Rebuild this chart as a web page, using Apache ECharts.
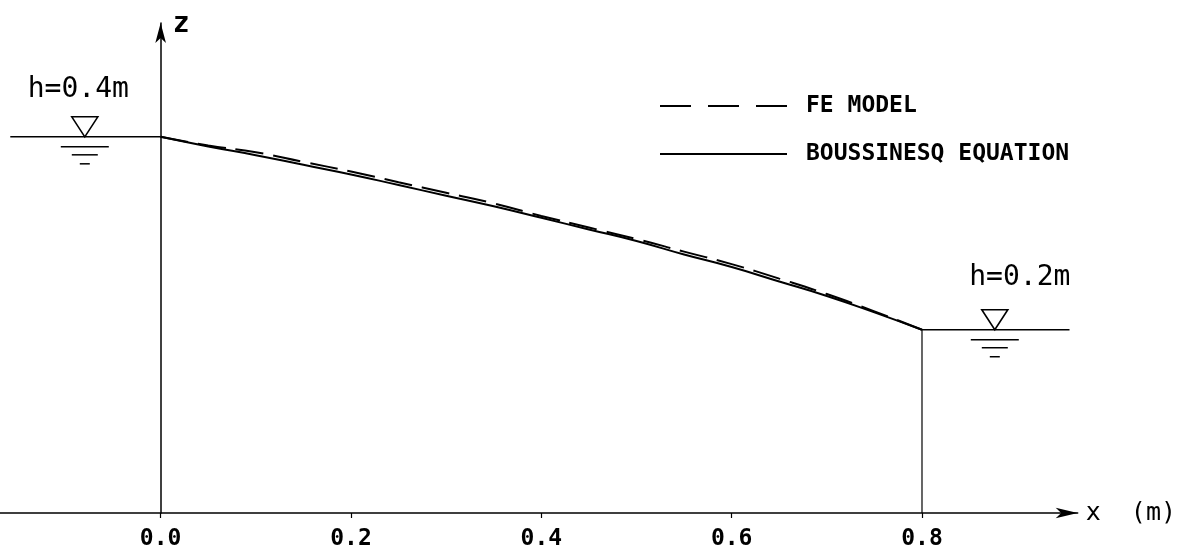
<!DOCTYPE html>
<html>
<head>
<meta charset="utf-8">
<script src="https://cdn.jsdelivr.net/npm/echarts@6/dist/echarts.min.js"></script>
<style>html,body{margin:0;padding:0;background:#fff;}#c{width:1179px;height:554px;}</style>
</head>
<body>
<div id="c"></div>
<script>
// ---- data ----
const xValues   = [0, 0.05, 0.1, 0.15, 0.2, 0.25, 0.3, 0.35, 0.4, 0.45, 0.5, 0.55, 0.6, 0.65, 0.7, 0.75, 0.8];
const boussinesq = [0.400, 0.390, 0.381, 0.371, 0.361, 0.350, 0.339, 0.328, 0.316, 0.304, 0.292, 0.278, 0.265, 0.250, 0.235, 0.218, 0.200];
const feModel    = [0.400, 0.391, 0.384, 0.374, 0.364, 0.353, 0.342, 0.331, 0.318, 0.306, 0.294, 0.281, 0.268, 0.253, 0.237, 0.219, 0.200];
const xTicks = [0, 0.2, 0.4, 0.6, 0.8];
const leftWater  = [[-0.158, 0.4], [0, 0.4]];
const rightWater = [[0.8, 0.2], [0.955, 0.2]];
const rightWall  = [[0.8, 0.01], [0.8, 0.2]];
// water level markers: [apex x, apex z, label x, label z, label]
const levelMarks = [
  [-0.0797, 0.4, -0.0865, 0.4487, 'h=0.4m'],
  [0.8765, 0.2, 0.9028, 0.2539, 'h=0.2m']
];
const seriesNames = ['FE MODEL', 'BOUSSINESQ EQUATION'];

const chart = echarts.init(document.getElementById('c'), null, {renderer: 'canvas'});
const pair = (ys) => xValues.map((x, i) => [x, ys[i]]);
const font = 'DejaVu Sans Mono';

const option = {
  backgroundColor: '#fff',
  animation: false,
  grid: {left: 0, right: 99, top: 23, bottom: 41, containLabel: false},
  xAxis: {
    type: 'value', min: -0.1688, max: 0.9636,
    name: 'x  (m)', nameLocation: 'end', nameGap: 8,
    nameTextStyle: {fontFamily: font, fontSize: 25, color: '#000', verticalAlign: 'middle'},
    axisLine: {onZero: false, symbol: ['none', 'arrow'], symbolSize: [8, 22], symbolOffset: [0, 0],
      lineStyle: {color: '#000', width: 1.5}},
    axisTick: {show: true, length: 5, customValues: xTicks, lineStyle: {color: '#000', width: 1.2}},
    axisLabel: {customValues: xTicks, formatter: v => v.toFixed(1), margin: 15,
      fontFamily: font, fontWeight: 'bold', fontSize: 23, color: '#000'},
    splitLine: {show: false}
  },
  yAxis: {
    type: 'value', min: 0.01, max: 0.518,
    name: 'z', nameLocation: 'end', nameGap: -2,
    nameTextStyle: {fontFamily: font, fontWeight: 'bold', fontSize: 28, color: '#000', align: 'left', verticalAlign: 'middle', padding: [0, 0, 0, 12]},
    axisLine: {onZero: true, symbol: ['none', 'arrow'], symbolSize: [8, 20],
      lineStyle: {color: '#000', width: 1.5}},
    axisTick: {show: false}, axisLabel: {show: false}, splitLine: {show: false}
  },
  legend: {
    orient: 'vertical', left: 655, top: 88, itemWidth: 127, itemHeight: 2, itemGap: 22,
    textStyle: {fontFamily: font, fontWeight: 'bold', fontSize: 23, color: '#000', padding: [0, 0, 0, 14], lineHeight: 26},
    data: [
      {name: seriesNames[0], icon: 'path://M0,0H31V2H0Z M48,0H79V2H48Z M96,0H127V2H96Z', itemStyle: {color: '#000', borderWidth: 0}},
      {name: seriesNames[1], icon: 'path://M0,0H127V2H0Z', itemStyle: {color: '#000', borderWidth: 0}}
    ]
  },
  series: [
    {name: seriesNames[0], type: 'line', data: pair(feModel), smooth: true, showSymbol: false, symbol: 'none', color: '#000',
      lineStyle: {color: '#000', width: 2, type: [28, 10]}, z: 3},
    {name: seriesNames[1], type: 'line', data: pair(boussinesq), smooth: true, showSymbol: false, symbol: 'none', color: '#000',
      lineStyle: {color: '#000', width: 2, type: 'solid'}, z: 3},
    {name: 'lw', type: 'line', data: leftWater, symbol: 'none', lineStyle: {color: '#000', width: 1.5}},
    {name: 'rw', type: 'line', data: rightWater, symbol: 'none', lineStyle: {color: '#000', width: 1.5}},
    {name: 'wall', type: 'line', data: rightWall, symbol: 'none', lineStyle: {color: '#000', width: 1.2}},
    {
      name: 'marks', type: 'custom', data: levelMarks, silent: true,
      encode: {x: 0, y: 1},
      renderItem: function (params, api) {
        const p = api.coord([api.value(0), api.value(1)]);
        const t = api.coord([api.value(2), api.value(3)]);
        const label = levelMarks[params.dataIndex][4];
        const ls = {stroke: '#000', lineWidth: 1.5};
        const hl = (a, b, dy) => ({type: 'line', shape: {x1: p[0] + a, y1: p[1] + dy, x2: p[0] + b, y2: p[1] + dy}, style: ls});
        return {
          type: 'group',
          children: [
            {type: 'polygon', shape: {points: [[p[0] - 13, p[1] - 20], [p[0] + 13, p[1] - 20], [p[0], p[1]]]},
              style: {fill: '#fff', stroke: '#000', lineWidth: 1.6}},
            hl(-24, 24, 10), hl(-13, 13, 18), hl(-5, 5, 27),
            {type: 'text', x: t[0], y: t[1],
              style: {text: label, fontFamily: font, fontSize: 28, fill: '#000', align: 'center', verticalAlign: 'middle'}}
          ]
        };
      }
    }
  ]
};
chart.setOption(option);
</script>
</body>
</html>
